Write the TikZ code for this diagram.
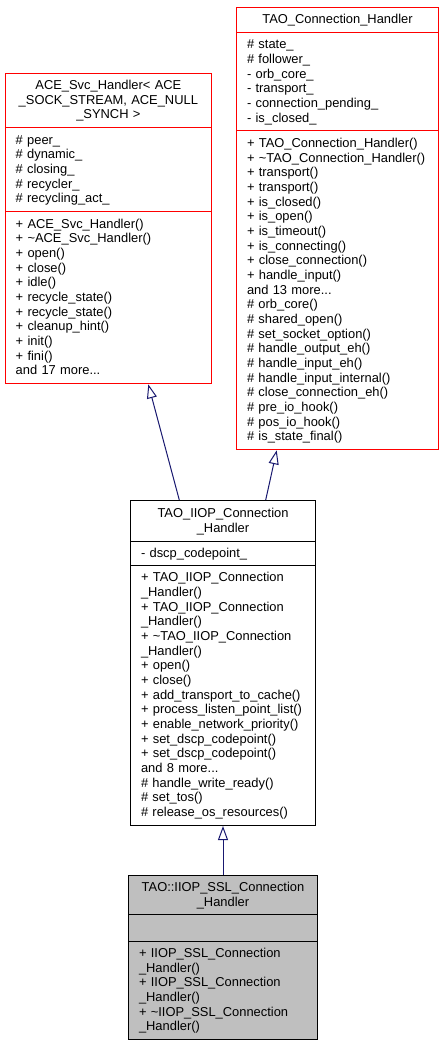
\documentclass[tikz,border=0pt]{standalone}
\usepackage{fontspec}
\setmainfont{Liberation Sans}
\usetikzlibrary{arrows.meta}
\definecolor{umlred}{HTML}{FF0000}
\definecolor{edgeblue}{HTML}{191970}
\definecolor{curgray}{HTML}{BFBFBF}
\newcommand\Ls{\rule[-3.4pt]{0pt}{14.67pt}}
\newcommand\LL[1]{\mbox{#1}\hspace*{0pt plus 1filll}}
\tikzset{
  comp/.style={rectangle, line width=1pt, anchor=north west, inner xsep=10.5pt, inner ysep=0pt,
    font={\fontsize{12.9}{14.67}\selectfont\hyphenpenalty=10000\exhyphenpenalty=10000}},
  ttl/.style={comp, align=center},
  mem/.style={comp, align=left},
  redc/.style={draw=umlred, fill=white},
  blkc/.style={draw=black, fill=white},
  curc/.style={draw=black, fill=curgray},
  inh/.style={draw=edgeblue, line width=1pt, -{Triangle[open, length=14pt, width=10pt]}},
}
\begin{document}
\begin{tikzpicture}[x=1pt,y=-1pt]
\fill[white] (0,0) rectangle (444,1045);
\useasboundingbox (0,0) rectangle (444,1045);

% ACE_Svc_Handler
\node[ttl, redc, text width=185.3pt, minimum width=206.3pt, minimum height=54.3pt] (aT) at (4.7,72.7)
 {\Ls\LL{ACE\_Svc\_Handler< ACE}\\\LL{\_SOCK\_STREAM, ACE\_NULL}\\\_SYNCH >\Ls};
\node[mem, redc, text width=185.3pt, minimum width=206.3pt, minimum height=84pt] (aA) at (4.7,127)
 {\Ls\#~peer\_\\\#~dynamic\_\\\#~closing\_\\\#~recycler\_\\\#~recycling\_act\_\Ls};
\node[mem, redc, text width=185.3pt, minimum width=206.3pt, minimum height=172.3pt] (aM) at (4.7,211)
 {\Ls+~ACE\_Svc\_Handler()\\+~\textasciitilde ACE\_Svc\_Handler()\\+~open()\\+~close()\\+~idle()\\+~recycle\_state()\\+~recycle\_state()\\+~cleanup\_hint()\\+~init()\\+~fini()\\and~17~more...\Ls};

% TAO_Connection_Handler
\node[ttl, redc, text width=181pt, minimum width=202pt, minimum height=25.3pt] (bT) at (236,6.7)
 {\Ls TAO\_Connection\_Handler\Ls};
\node[mem, redc, text width=181pt, minimum width=202pt, minimum height=98.3pt] (bA) at (236,32)
 {\Ls\#~state\_\\\#~follower\_\\-~orb\_core\_\\-~transport\_\\-~connection\_pending\_\\-~is\_closed\_\Ls};
\node[mem, redc, text width=181pt, minimum width=202pt, minimum height=319pt] (bM) at (236,130.3)
 {\Ls+~TAO\_Connection\_Handler()\\+~\textasciitilde TAO\_Connection\_Handler()\\+~transport()\\+~transport()\\+~is\_closed()\\+~is\_open()\\+~is\_timeout()\\+~is\_connecting()\\+~close\_connection()\\+~handle\_input()\\and~13~more...\\\#~orb\_core()\\\#~shared\_open()\\\#~set\_socket\_option()\\\#~handle\_output\_eh()\\\#~handle\_input\_eh()\\\#~handle\_input\_internal()\\\#~close\_connection\_eh()\\\#~pre\_io\_hook()\\\#~pos\_io\_hook()\\\#~is\_state\_final()\Ls};

% TAO_IIOP_Connection_Handler
\node[ttl, blkc, text width=164pt, minimum width=185pt, minimum height=40.7pt] (cT) at (130,500)
 {\Ls\LL{TAO\_IIOP\_Connection}\\\_Handler\Ls};
\node[mem, blkc, text width=164pt, minimum width=185pt, minimum height=24pt] (cA) at (130,540.7)
 {\Ls-~dscp\_codepoint\_\Ls};
\node[mem, blkc, text width=164pt, minimum width=185pt, minimum height=260.3pt] (cM) at (130,564.7)
 {\Ls+~TAO\_IIOP\_Connection\\\_Handler()\\+~TAO\_IIOP\_Connection\\\_Handler()\\+~\textasciitilde TAO\_IIOP\_Connection\\\_Handler()\\+~open()\\+~close()\\+~add\_transport\_to\_cache()\\+~process\_listen\_point\_list()\\+~enable\_network\_priority()\\+~set\_dscp\_codepoint()\\+~set\_dscp\_codepoint()\\and~8~more...\\\#~handle\_write\_ready()\\\#~set\_tos()\\\#~release\_os\_resources()\Ls};

% TAO::IIOP_SSL_Connection_Handler
\node[ttl, curc, text width=168pt, minimum width=189pt, minimum height=39.3pt] (dT) at (128,875)
 {\Ls\LL{TAO::IIOP\_SSL\_Connection}\\\_Handler\Ls};
\node[mem, curc, text width=168pt, minimum width=189pt, minimum height=26.4pt] (dA) at (128,914.3) {};
\node[mem, curc, text width=168pt, minimum width=189pt, minimum height=98.3pt] (dM) at (128,940.7)
 {\Ls+~IIOP\_SSL\_Connection\\\_Handler()\\+~IIOP\_SSL\_Connection\\\_Handler()\\+~\textasciitilde IIOP\_SSL\_Connection\\\_Handler()\Ls};

% inheritance arrows
\draw[inh] ([xshift=49.3pt]cT.north west) -- ([xshift=143.6pt]aM.south west);
\draw[inh] ([xshift=135.7pt]cT.north west) -- ([xshift=40.7pt]bM.south west);
\draw[inh] (dT.north) -- (cM.south);
\end{tikzpicture}
\end{document}
